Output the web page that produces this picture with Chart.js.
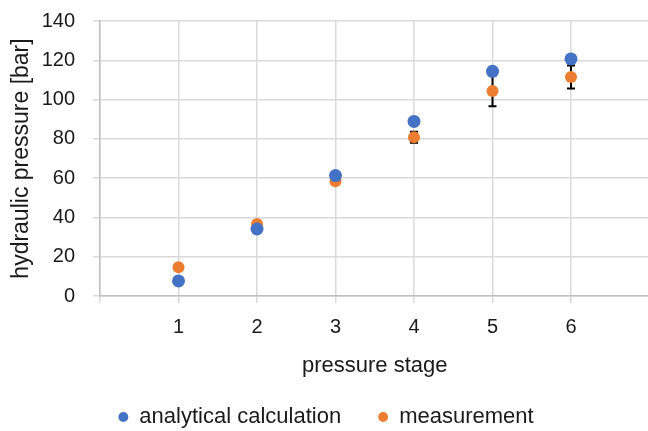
<!DOCTYPE html>
<html>
<head>
<meta charset="utf-8">
<script src="https://cdn.jsdelivr.net/npm/chart.js@4.4.0/dist/chart.umd.min.js"></script>
<style>
  html, body { margin: 0; padding: 0; background: #fff; overflow: hidden; }
  #wrap { width: 656px; height: 431px; }
</style>
</head>
<body>
<div id="wrap"><canvas id="chart" width="656" height="431"></canvas></div>
<script>
let stages = [1, 2, 3, 4, 5, 6];
let analytical = [7.7, 34.1, 61.3, 88.9, 114.4, 120.7];
let measurement = [14.6, 36.7, 58.4, 80.8, 104.4, 111.5];
let measurementErr = [0.5, 0.5, 0.5, 2.8, 7.8, 5.8];
let yTicks = [0, 20, 40, 60, 80, 100, 120, 140];
let xLabels = ["", "1", "2", "3", "4", "5", "6", ""];

const fontName = "'Liberation Sans', Arial, sans-serif";
const textColor = "#1a1a1a";

function toPoints(values) {
  let pts = [];
  for (let i = 0; i < stages.length; i++) {
    pts.push({ x: stages[i], y: values[i] });
  }
  return pts;
}

// black error bars of the measurement series, drawn under the markers
const errorBars = {
  id: "errorBars",
  beforeDatasetsDraw(chart) {
    const ctx = chart.ctx;
    const xs = chart.scales.x;
    const ys = chart.scales.y;
    ctx.save();
    ctx.strokeStyle = "#000";
    ctx.lineWidth = 2;
    for (let i = 0; i < stages.length; i++) {
      let px = xs.getPixelForValue(stages[i]);
      let top = ys.getPixelForValue(measurement[i] + measurementErr[i]);
      let bottom = ys.getPixelForValue(measurement[i] - measurementErr[i]);
      ctx.beginPath();
      ctx.moveTo(px, top);
      ctx.lineTo(px, bottom);
      ctx.moveTo(px - 4, top);
      ctx.lineTo(px + 4, top);
      ctx.moveTo(px - 4, bottom);
      ctx.lineTo(px + 4, bottom);
      ctx.stroke();
    }
    ctx.restore();
  },
};

const chart = document.getElementById("chart");
new Chart(chart, {
  type: "scatter",
  data: {
    datasets: [
      {
        label: "analytical calculation",
        data: toPoints(analytical),
        backgroundColor: "#4472C4",
        borderColor: "#4472C4",
        pointRadius: 6.5,
        pointHoverRadius: 6.5,
        borderWidth: 0,
      },
      {
        label: "measurement",
        data: toPoints(measurement),
        backgroundColor: "#ED7D31",
        borderColor: "#ED7D31",
        pointRadius: 6,
        pointHoverRadius: 6,
        borderWidth: 0,
      },
    ],
  },
  plugins: [errorBars],
  options: {
    responsive: false,
    animation: false,
    layout: { padding: { top: 21, right: 4, left: 0, bottom: 0 } },
    plugins: {
      tooltip: { enabled: false },
      legend: {
        position: "bottom",
        maxHeight: 62,
        labels: {
          usePointStyle: true,
          pointStyle: "circle",
          boxWidth: 10,
          boxHeight: 7,
          padding: 37,
          color: textColor,
          font: { family: fontName, size: 22 },
        },
      },
    },
    scales: {
      x: {
        type: "linear",
        min: 0,
        max: 7,
        afterFit(scale) {
          scale.height = 73;
          scale.paddingLeft = 0;
          scale.paddingRight = 0;
        },
        ticks: {
          stepSize: 1,
          padding: 12,
          color: textColor,
          font: { family: fontName, size: 20 },
          callback: (v) => xLabels[v],
        },
        grid: { color: "#d9d9d9", lineWidth: 1.5, tickLength: 7 },
        border: { color: "#bfbfbf", width: 1.5 },
        title: {
          display: true,
          text: "pressure stage",
          color: textColor,
          font: { family: fontName, size: 22 },
          padding: { top: 4, bottom: -10 },
        },
      },
      y: {
        min: 0,
        max: 140,
        afterFit(scale) {
          scale.width = 100;
          scale.paddingTop = 12;
          scale.paddingBottom = 0;
        },
        afterBuildTicks(scale) {
          scale.ticks = yTicks.map((v) => ({ value: v }));
        },
        ticks: {
          padding: 18,
          color: textColor,
          font: { family: fontName, size: 20 },
        },
        grid: { color: "#d9d9d9", lineWidth: 1.5, tickLength: 7 },
        border: { color: "#bfbfbf", width: 1.5 },
        title: {
          display: true,
          text: "hydraulic pressure [bar]",
          color: textColor,
          font: { family: fontName, size: 23 },
          padding: { top: 8, bottom: 0 },
        },
      },
    },
  },
});
</script>
</body>
</html>
